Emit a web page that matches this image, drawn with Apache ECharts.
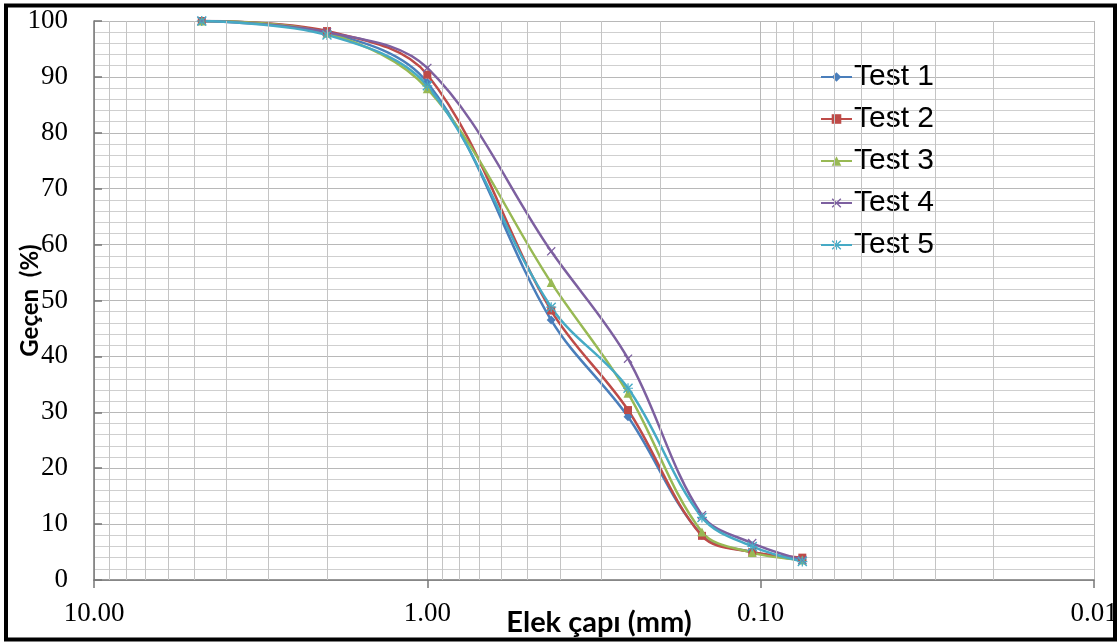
<!DOCTYPE html>
<html>
<head>
<meta charset="utf-8">
<script src="https://cdn.jsdelivr.net/npm/echarts@6/dist/echarts.min.js"></script>
<style>
html,body{margin:0;padding:0;background:#fff;}
#c{width:1120px;height:644px;}
</style>
</head>
<body>
<div id="c"></div>
<script>
// Sieve sizes (mm)
const sizes = [4.75, 2.0, 1.0, 0.425, 0.25, 0.15, 0.106, 0.075];
const test1 = [100, 98.0, 89.0, 46.5, 29.2, 8.0, 5.0, 3.6];
const test2 = [100, 98.2, 90.4, 48.2, 30.4, 7.9, 5.0, 4.0];
const test3 = [100, 97.8, 87.9, 53.2, 33.4, 8.6, 4.9, 3.6];
const test4 = [100, 98.0, 91.6, 58.8, 39.6, 11.6, 6.6, 3.6];
const test5 = [100, 97.5, 88.4, 48.8, 34.3, 11.2, 6.0, 3.3];
const seriesNames = ['Test 1', 'Test 2', 'Test 3', 'Test 4', 'Test 5'];
// minor log grid positions
const minorX = [2,3,4,5,6,7,8,9, 0.2,0.3,0.4,0.5,0.6,0.7,0.8,0.9, 0.02,0.03,0.04,0.05,0.06,0.07,0.08,0.09];

const colors = ['#4A7EBB', '#BE4B48', '#98B954', '#7D60A0', '#46AAC5'];
const xSym = 'path://M0,1L1,0L5,4L9,0L10,1L6,5L10,9L9,10L5,6L1,10L0,9L4,5Z';
const starSym = 'path://M0,1L1,0L5,4L9,0L10,1L6,5L10,9L9,10L5,6L1,10L0,9L4,5Z M4.4,0L4.4,10L5.6,10L5.6,0Z M0,4.4L0,5.6L10,5.6L10,4.4Z';
const symbols = ['diamond', 'rect', 'triangle', xSym, starSym];
const symSizes = [9, 8, 9, 9, 10];
const allData = [test1, test2, test3, test4, test5];

const chart = echarts.init(document.getElementById('c'));
const series = seriesNames.map((n, i) => ({
  name: n,
  type: 'line',
  smooth: 0.35,
  z: 3,
  data: sizes.map((s, j) => [s, allData[i][j]]),
  symbol: symbols[i],
  symbolSize: symSizes[i],
  showAllSymbol: true,
  lineStyle: {color: colors[i], width: 2.5},
  itemStyle: {color: colors[i]},
  animation: false
}));
series.unshift({
  name: 'grid',
  type: 'line',
  z: 1,
  data: [],
  showSymbol: false,
  animation: false,
  markLine: {
    silent: true,
    symbol: 'none',
    animation: false,
    label: {show: false},
    lineStyle: {type: 'solid', color: '#c4c4c4', width: 1},
    data: minorX.map(v => ({xAxis: v}))
  }
});

chart.setOption({
  backgroundColor: '#fff',
  animation: false,
  grid: {left: 94, right: 26, top: 21, bottom: 64, containLabel: false, outerBoundsMode: 'none'},
  legend: {
    data: seriesNames,
    orient: 'vertical',
    left: 815,
    top: 57,
    itemWidth: 31,
    itemHeight: 12,
    itemGap: 12,
    textStyle: {fontFamily: 'Liberation Sans', fontSize: 30, color: '#000', padding: [0,0,0,-3]}
  },
  xAxis: {
    type: 'log',
    logBase: 10,
    min: 0.01,
    max: 10,
    inverse: true,
    name: 'Elek çapı (mm)',
    nameLocation: 'middle',
    nameMoveOverlap: false,
    nameGap: 28,
    nameTextStyle: {fontFamily: 'Lato', fontWeight: 'bold', fontSize: 29, color: '#000', padding: [0,0,0,10]},
    axisLine: {show: true, lineStyle: {color: '#777', width: 1.5}},
    axisTick: {show: true, inside: false, length: 8, lineStyle: {color: '#777', width: 1.5}},
    axisLabel: {
      fontFamily: 'Liberation Serif', fontSize: 27, color: '#000', margin: 20,
      formatter: v => Number(v).toFixed(2)
    },
    splitLine: {show: true, lineStyle: {color: '#b8b8b8', width: 1}}
  },
  yAxis: {
    type: 'value',
    min: 0,
    max: 100,
    interval: 10,
    name: 'Geçen  (%)',
    nameLocation: 'middle',
    nameMoveOverlap: false,
    nameGap: 52,
    nameTextStyle: {fontFamily: 'Lato', fontWeight: 'bold', fontSize: 24, color: '#000'},
    axisLine: {show: true, lineStyle: {color: '#777', width: 1.5}},
    axisTick: {show: true, inside: true, length: 8, lineStyle: {color: '#777', width: 1.5}},
    axisLabel: {fontFamily: 'Liberation Serif', fontSize: 27, color: '#000', margin: 26},
    splitLine: {show: true, lineStyle: {color: '#b8b8b8', width: 1}},
    minorTick: {show: false, splitNumber: 5},
    minorSplitLine: {show: true, lineStyle: {color: '#cfcfcf', width: 1}}
  },
  graphic: [{
    type: 'rect',
    silent: true,
    z: 100,
    shape: {x: 6, y: 5.5, width: 1109, height: 634},
    style: {fill: 'none', stroke: '#000', lineWidth: 4}
  }],
  series: series
});
</script>
</body>
</html>
